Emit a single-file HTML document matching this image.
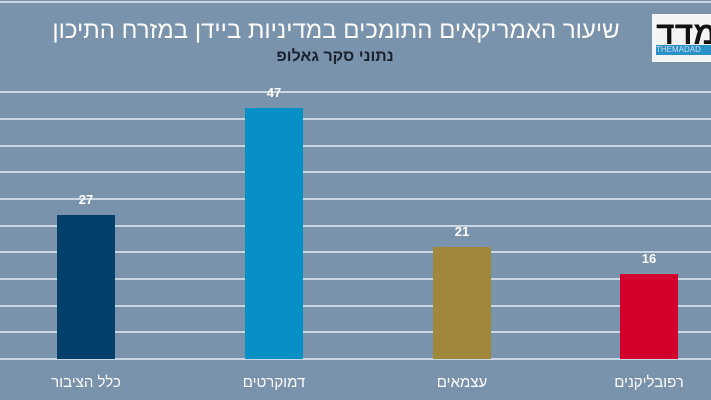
<!DOCTYPE html>
<html><head><meta charset="utf-8"><style>
body{margin:0;width:711px;height:400px;overflow:hidden;background:#7a93ad;font-family:"Liberation Sans","Noto Sans CJK SC",sans-serif;}
.g{position:absolute;left:0;width:711px;height:2px;background:#c9d6e3;}
.b{position:absolute;width:58px;}
.v{position:absolute;width:58px;text-align:center;color:#fff;font-size:13px;font-weight:bold;}
.l{position:absolute;width:140px;text-align:center;color:#fff;font-size:15px;top:374px;}
</style></head><body>
<div class="g" style="top:1px"></div>
<div class="g" style="top:91px"></div><div class="g" style="top:118px"></div><div class="g" style="top:145px"></div><div class="g" style="top:171px"></div><div class="g" style="top:198px"></div><div class="g" style="top:225px"></div><div class="g" style="top:251px"></div><div class="g" style="top:278px"></div><div class="g" style="top:305px"></div><div class="g" style="top:331px"></div><div class="g" style="top:358px"></div>
<div style="position:absolute;left:26px;width:620px;top:17px;text-align:center;color:#fff;font-size:24px;direction:rtl">שיעור האמריקאים התומכים במדיניות ביידן במזרח התיכון</div>
<div style="position:absolute;left:40px;width:590px;top:48px;text-align:center;color:#1a2230;font-size:16px;font-weight:bold;direction:rtl">נתוני סקר גאלופ</div>
<div style="position:absolute;left:652px;top:14px;width:59px;height:48px;background:#f2f4f6;">
<div style="position:absolute;left:4px;top:0;font-size:32px;font-weight:bold;color:#111;line-height:38px">מדד</div>
<div style="position:absolute;left:4px;top:31px;width:55px;height:10px;background:#2a90c8;color:#cde;font-size:8px;line-height:10px;overflow:hidden">THEMADAD</div></div>
<div class="b" style="left:57px;top:215px;height:144px;background:#023f6b"></div>
<div class="b" style="left:245px;top:108px;height:251px;background:#0690c6"></div>
<div class="b" style="left:433px;top:247px;height:112px;background:#a1873a"></div>
<div class="b" style="left:620px;top:274px;height:85px;background:#d3002c"></div>
<div class="v" style="left:57px;top:192px">27</div>
<div class="v" style="left:245px;top:85px">47</div>
<div class="v" style="left:433px;top:224px">21</div>
<div class="v" style="left:620px;top:251px">16</div>
<div class="l" style="left:16px">כלל הציבור</div>
<div class="l" style="left:204px">דמוקרטים</div>
<div class="l" style="left:392px">עצמאים</div>
<div class="l" style="left:579px">רפובליקנים</div>
</body></html>
